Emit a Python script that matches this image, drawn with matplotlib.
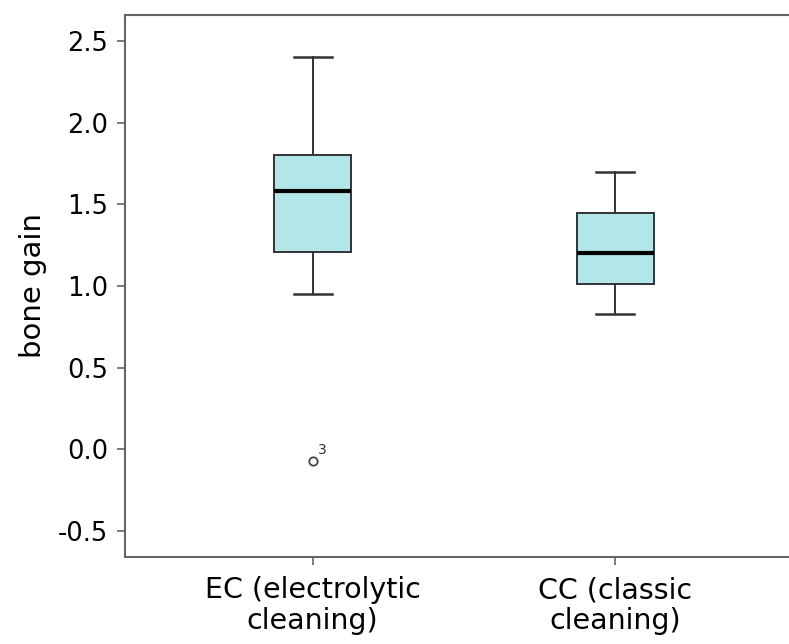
import matplotlib
matplotlib.use("Agg")
import matplotlib.pyplot as plt

plt.rcParams['font.family'] = ['DejaVu Sans']

# ## Data
groups = ["EC (electrolytic\ncleaning)", "CC (classic\ncleaning)"]
whisker_low = [0.95, 0.83]
q1 = [1.21, 1.01]
median = [1.58, 1.20]
q3 = [1.80, 1.45]
whisker_high = [2.40, 1.70]
outliers = [[-0.07], []]
outlier_ids = [["3"], []]

# ## Styles
box_fill = "#b3e6e8"
edge = "#333333"
spine_col = "#666666"

stats = []
for i in range(len(groups)):
    stats.append(dict(whislo=whisker_low[i], q1=q1[i], med=median[i],
                      q3=q3[i], whishi=whisker_high[i], fliers=outliers[i]))

fig = plt.figure(figsize=(7.89, 6.44), dpi=100)
ax = fig.add_axes([125 / 789, 1 - 557 / 644, (803 - 125) / 789, (557 - 15) / 644])

positions = list(range(1, len(groups) + 1))
ax.bxp(stats, positions=positions, widths=0.254, patch_artist=True,
       capwidths=0.125,
       boxprops=dict(facecolor=box_fill, edgecolor=edge, linewidth=1.4),
       medianprops=dict(color="black", linewidth=3),
       whiskerprops=dict(color=edge, linewidth=1.4),
       capprops=dict(color=edge, linewidth=1.8),
       flierprops=dict(marker="o", markersize=6, markerfacecolor="none",
                       markeredgecolor="#444444", markeredgewidth=1.3))

# outlier case labels
for pos, ys, ids in zip(positions, outliers, outlier_ids):
    for y, lab in zip(ys, ids):
        ax.annotate(lab, (pos, y), xytext=(4, 3), textcoords="offset points",
                    fontsize=10, color="#333333", ha="left", va="bottom")

ax.set_xlim(0.38, 2.62)
ax.set_ylim(-0.66, 2.66)
ax.set_yticks([-0.5, 0.0, 0.5, 1.0, 1.5, 2.0, 2.5])
ax.set_yticklabels(["-0.5", "0.0", "0.5", "1.0", "1.5", "2.0", "2.5"])
ax.set_xticks(positions)
ax.set_xticklabels(groups, fontsize=20.5, linespacing=1.1)
ax.tick_params(axis="y", labelsize=18.5, length=6, width=1.2, color=spine_col, pad=6)
ax.tick_params(axis="x", length=6, width=1.2, color=spine_col, pad=8)
ax.set_ylabel("bone gain", fontsize=21, labelpad=8)

for side in ["left", "bottom", "top", "right"]:
    ax.spines[side].set_color(spine_col)
    ax.spines[side].set_linewidth(1.5)

fig.savefig("out.png", dpi=100)
